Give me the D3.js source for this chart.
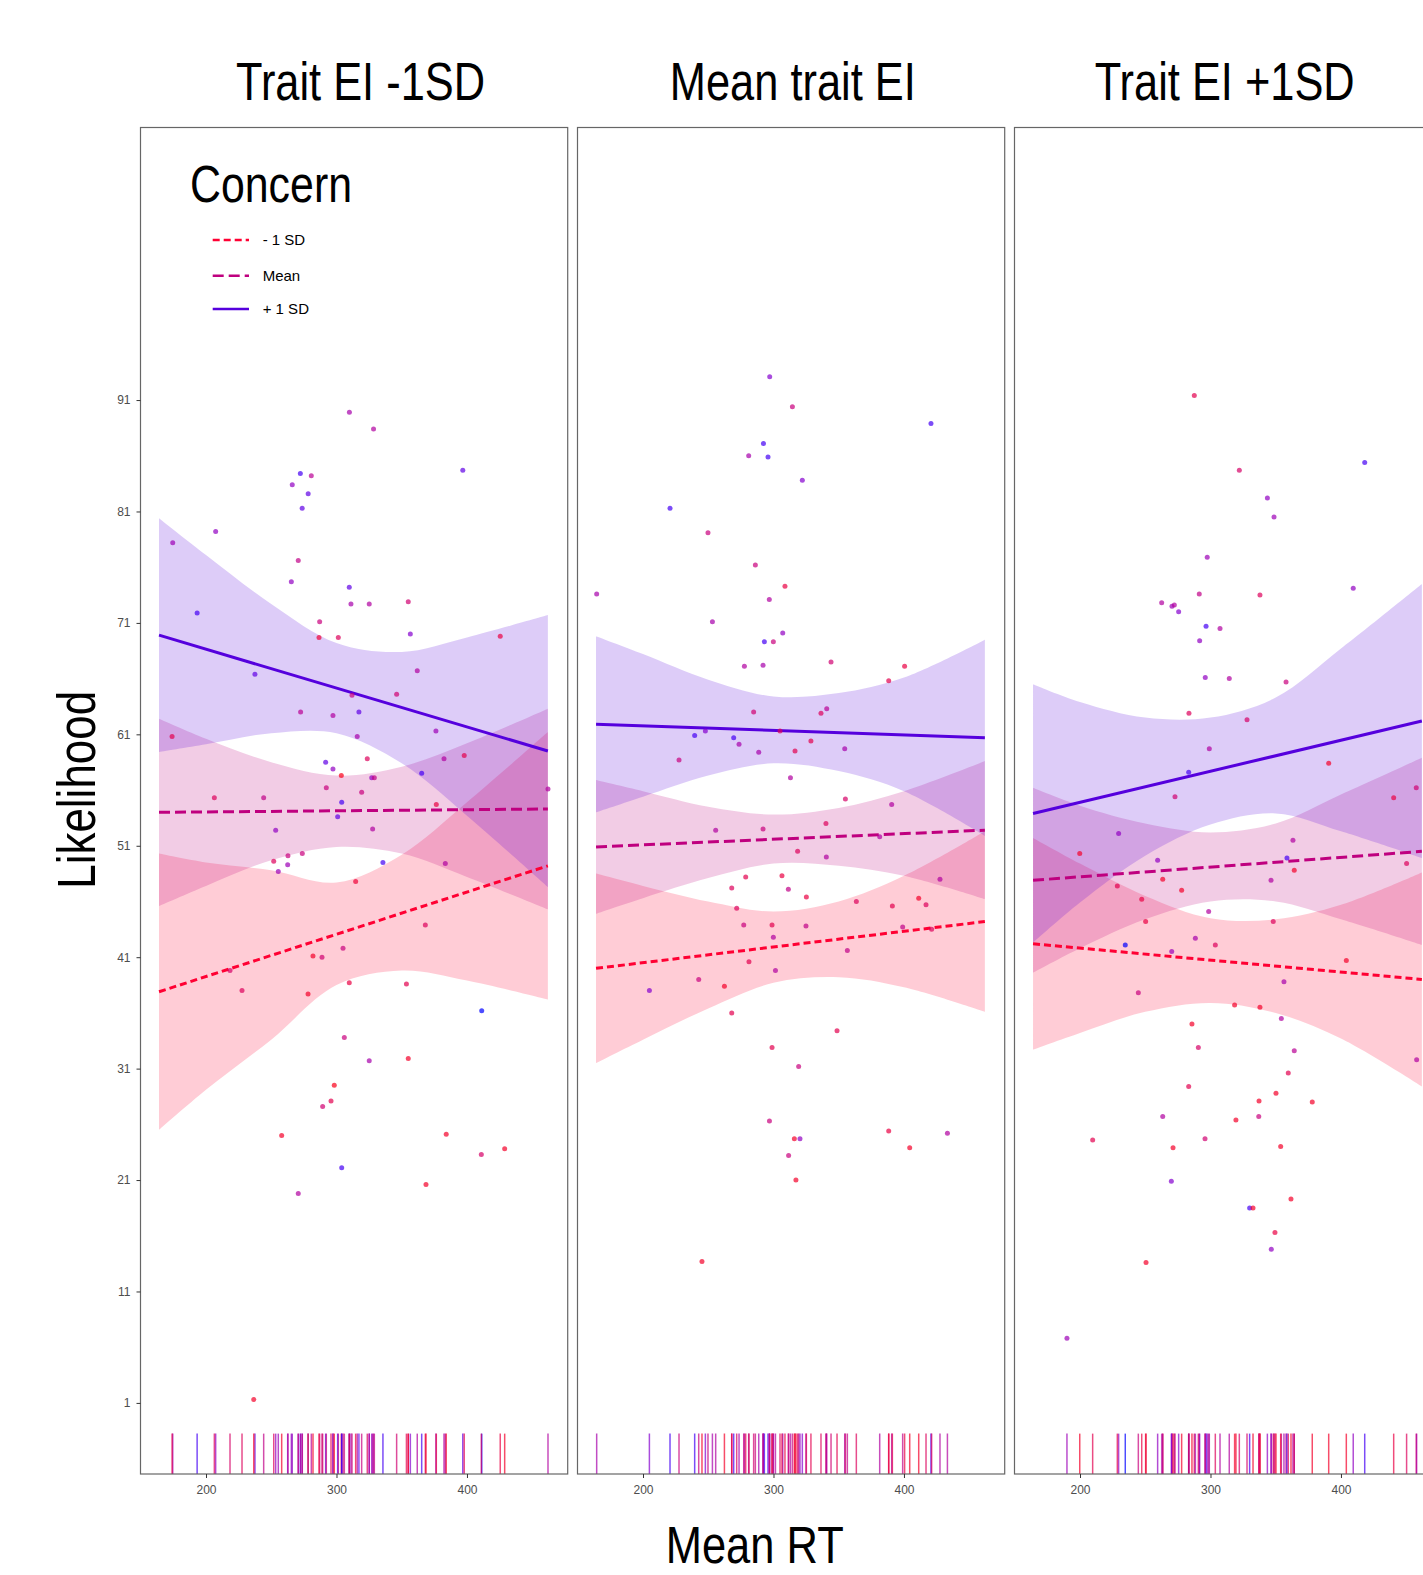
<!DOCTYPE html>
<html><head><meta charset="utf-8">
<script src="https://cdn.jsdelivr.net/npm/d3@7"></script>
<style>body{margin:0;background:#fff}svg{display:block}</style>
</head><body><svg id="c"></svg>
<script>
// ---------- data ----------
const facetTitles = ["Trait EI -1SD", "Mean trait EI", "Trait EI +1SD"];
const legendTitle = "Concern";
const levelNames = ["- 1 SD", "Mean", "+ 1 SD"];
const xTicks = [200, 300, 400];
const yTicks = [1, 11, 21, 31, 41, 51, 61, 71, 81, 91];

// fitted simple-slope lines (values at fitX) per panel: [red(-1SD), mean, blue(+1SD)]
const fitX = [164, 462];
const fitP1 = [[37.9, 49.2], [54.0, 54.3], [69.9, 59.5]];
const fitP2 = [[40.0, 44.2], [50.9, 52.4], [61.9, 60.7]];
const fitP3 = [[42.2, 39.0], [47.9, 50.5], [53.9, 62.2]];

// confidence bands read at bandX
const bandX = [164, 200, 250, 300, 350, 400, 462];
const loP1 = [[25.5, 29.1, 33.6, 38.5, 39.8, 38.9, 37.2], [45.6, 47.4, 49.7, 50.9, 50.3, 48.2, 45.3], [59.4, 60.1, 61.1, 61.1, 58.4, 53.7, 47.3]];
const hiP1 = [[50.3, 49.5, 48.8, 47.7, 50.2, 54.9, 61.2], [62.4, 60.6, 58.5, 57.3, 58.1, 60.2, 63.3], [80.4, 77.1, 72.7, 69.2, 68.4, 69.7, 71.7]];
const loP2 = [[31.5, 33.6, 36.4, 38.7, 39.2, 38.3, 36.1], [44.9, 46.3, 48.1, 49.4, 49.2, 48.3, 46.2], [54.0, 55.4, 57.3, 58.4, 57.7, 55.9, 51.9]];
const hiP2 = [[48.5, 47.4, 46.0, 45.1, 46.0, 48.3, 52.3], [56.9, 55.9, 54.5, 53.8, 54.4, 55.9, 58.6], [69.8, 68.2, 65.9, 64.4, 64.7, 66.1, 69.5]];
const loP3 = [[32.7, 34.2, 36.1, 36.9, 36.0, 33.7, 29.4], [39.6, 41.8, 44.4, 46.0, 46.0, 44.4, 42.1], [42.3, 45.9, 50.1, 52.9, 53.9, 52.3, 49.9]];
const hiP3 = [[51.7, 49.4, 46.5, 44.5, 44.4, 45.7, 48.6], [56.2, 54.6, 53.0, 52.2, 53.0, 55.6, 58.9], [65.5, 63.9, 62.5, 62.5, 64.3, 68.7, 74.5]];

// points: Mean RT, Likelihood, moderator colour position (0 = red, 1 = blue)
const rt1 = [174.5,193.2,207.4,309.9,328.4,396.8,272.3,280.7,266.1,278.3,273.7,270.7,265.4,309.8,311.1,325.1,355.0,287.1,286.6,301.4,356.6,425.5,174.0,237.5,361.9,346.1,311.9,272.5,297.3,317.2,315.9,376.2,382.4,397.9,323.6,291.7,297.3,303.7,365.3,327.0,329.0,292.2,319.3,206.4,244.2,304.0,300.9,462.1,376.5,253.4,327.7,251.9,262.8,273.8,255.4,262.6,335.6,383.4,314.7,368.1,305.0,218.4,227.6,282.0,288.9,278.2,309.8,353.6,411.3,306.0,325.1,355.0,298.3,295.8,289.4,258.0,384.1,411.0,428.9,304.0,368.6,270.7,236.6];
const lik1 = [78.2,71.9,79.2,89.9,88.4,84.7,84.4,84.2,83.4,82.6,81.3,76.6,74.7,74.2,72.7,72.7,72.9,71.1,69.7,69.7,70.0,69.8,60.8,66.4,66.7,64.6,64.5,63.0,62.7,63.0,60.8,61.3,58.8,59.1,58.8,58.5,57.9,57.3,57.5,57.1,57.1,56.2,55.8,55.3,55.3,54.9,53.6,56.1,54.7,52.4,52.5,49.6,50.1,50.3,48.7,49.3,49.5,49.4,47.8,43.9,41.8,39.8,38.0,41.1,41.0,37.7,38.7,38.6,36.2,33.8,31.7,31.9,29.5,28.1,27.6,25.0,25.1,23.3,23.8,22.1,20.6,19.8,1.3];
const mod1 = [0.7,0.95,0.75,0.65,0.6,0.9,0.95,0.55,0.75,0.9,0.9,0.5,0.75,0.9,0.65,0.6,0.4,0.45,0.15,0.3,0.8,0.2,0.25,0.9,0.6,0.4,0.45,0.55,0.6,0.9,0.65,0.7,0.6,0.25,0.3,0.9,0.75,0.05,0.95,0.75,0.5,0.45,0.45,0.3,0.5,0.95,0.9,0.6,0.2,0.75,0.6,0.3,0.45,0.45,0.7,0.7,0.95,0.6,0.15,0.3,0.45,0.35,0.3,0.1,0.4,0.1,0.2,0.25,1.0,0.45,0.65,0.1,0.05,0.25,0.4,0.1,0.1,0.35,0.1,0.95,0.1,0.6,0.1];

const rt2 = [297.1,314.5,420.7,292.3,281.0,295.8,322.1,220.7,249.8,286.1,308.8,164.5,296.8,253.2,307.1,293.0,299.9,277.7,292.0,344.1,400.5,388.3,284.8,336.4,340.8,239.6,247.8,269.5,273.6,288.7,305.0,316.5,328.7,354.6,227.6,313.0,355.1,390.6,255.7,292.0,340.2,381.4,318.5,340.5,427.6,278.7,306.5,268.0,311.4,325.2,363.5,391.1,411.3,416.9,271.8,277.2,298.9,324.9,399.0,421.2,299.9,356.6,281.2,301.5,242.7,262.4,204.9,268.0,348.7,298.9,319.3,296.9,388.3,433.3,316.0,320.3,404.4,311.6,317.2,245.2];
const lik2 = [93.1,90.4,88.9,87.1,86.0,85.9,83.8,81.3,79.1,76.2,74.3,73.6,73.1,71.1,70.1,69.3,69.3,67.1,67.2,67.5,67.1,65.8,63.0,62.9,63.3,60.9,61.3,60.7,60.1,59.4,61.3,59.5,60.4,59.7,58.7,57.1,55.2,54.7,52.4,52.5,53.0,51.8,50.5,50.0,48.0,48.2,48.3,47.2,47.1,46.4,46.0,45.6,46.3,45.7,45.4,43.9,43.9,43.8,43.7,43.5,42.8,41.6,40.6,39.8,39.0,38.4,38.0,36.0,34.4,32.9,31.2,26.3,25.4,25.2,24.7,24.7,23.9,23.2,21.0,13.7];
const mod2 = [0.8,0.45,0.95,0.95,0.65,0.95,0.8,0.95,0.45,0.45,0.2,0.65,0.6,0.65,0.75,0.95,0.45,0.6,0.65,0.4,0.2,0.25,0.4,0.3,0.55,0.95,0.8,0.95,0.65,0.65,0.3,0.25,0.25,0.65,0.45,0.6,0.35,0.6,0.6,0.45,0.3,0.6,0.3,0.6,0.6,0.25,0.2,0.3,0.5,0.2,0.3,0.25,0.1,0.3,0.3,0.45,0.25,0.5,0.5,0.3,0.6,0.5,0.25,0.6,0.45,0.1,0.8,0.25,0.25,0.25,0.45,0.45,0.2,0.6,0.1,0.75,0.1,0.45,0.1,0.1];

const rt3 = [287.6,418.2,322.1,343.6,348.7,297.5,291.4,337.9,409.4,262.6,270.5,272.3,275.6,296.6,307.3,291.7,296.0,314.4,357.9,283.5,328.0,299.1,390.6,283.3,272.8,440.4,457.7,229.6,199.8,363.2,358.6,259.5,364.2,450.3,263.4,346.4,228.6,277.9,247.3,298.6,250.3,348.1,234.7,288.4,303.7,270.3,404.1,356.3,244.7,318.5,337.9,354.3,285.8,290.7,364.2,458.0,359.6,283.3,350.2,337.2,378.0,263.4,319.5,337.0,209.7,295.8,271.3,353.8,270.0,361.7,330.0,332.6,349.4,346.6,250.6,190.0];
const lik3 = [91.4,85.4,84.7,82.2,80.5,76.9,73.6,73.5,74.1,72.8,72.5,72.6,72.0,70.7,70.5,69.4,66.1,66.0,65.7,62.9,62.3,59.7,58.4,57.6,55.4,55.3,56.2,52.1,50.3,51.5,49.9,49.7,48.8,49.4,48.0,47.9,47.4,47.0,46.2,45.1,44.2,44.2,42.1,42.7,42.1,41.5,40.7,38.8,37.8,36.7,36.5,35.5,35.0,32.9,32.6,31.8,30.6,29.4,28.8,28.1,28.0,26.7,26.4,26.7,24.6,24.7,23.9,24.0,20.9,19.3,18.5,18.5,16.3,14.8,13.6,6.8];
const mod3 = [0.25,0.95,0.35,0.75,0.7,0.7,0.5,0.3,0.75,0.6,0.7,0.6,0.8,0.95,0.6,0.75,0.75,0.6,0.45,0.3,0.35,0.6,0.1,0.95,0.4,0.2,0.4,0.75,0.1,0.6,0.95,0.75,0.1,0.3,0.1,0.6,0.25,0.1,0.2,0.6,0.2,0.3,1.0,0.65,0.3,0.7,0.1,0.65,0.45,0.1,0.1,0.6,0.1,0.35,0.55,0.6,0.25,0.25,0.1,0.1,0.1,0.6,0.1,0.45,0.25,0.4,0.1,0.1,0.8,0.1,0.95,0.1,0.2,0.75,0.1,0.7];

// ---------- layout / style ----------
const W = 1423, H = 1575;
const panelLeft0 = 140.5, panelStep = 437, panelW = 427.2, panelTop = 127.5, panelBottom = 1474;
const titleCx = [360.5, 792.8, 1224.7];
const titleLen = [249, 246, 260];
const lineColors = ["#ff0033", "#bf007f", "#5500dd"];
const lineDash = ["7,4", "11,5", null];
const bandOrder = [0, 1, 2];
const ptColor = d3.interpolateLab("#ff0000", "#0000ff");
const FONT = "'Liberation Sans', Arial, Helvetica, sans-serif";
const NARROW = "'Liberation Sans Narrow', 'Liberation Sans', Arial, sans-serif";

const svg = d3.select("#c").attr("width", W).attr("height", H)
  .style("font-family", FONT);
svg.append("rect").attr("width", W).attr("height", H).attr("fill", "#fff");

const y = d3.scaleLinear().domain([-5.38, 115.46]).range([panelBottom, panelTop]);

const panels = [
  {fit: fitP1, lo: loP1, hi: hiP1, rt: rt1, lik: lik1, mod: mod1},
  {fit: fitP2, lo: loP2, hi: hiP2, rt: rt2, lik: lik2, mod: mod2},
  {fit: fitP3, lo: loP3, hi: hiP3, rt: rt3, lik: lik3, mod: mod3}
];

const defs = svg.append("defs");

panels.forEach((P, i) => {
  const left = panelLeft0 + panelStep * i;
  const x = d3.scaleLinear().domain([149.8, 477.2]).range([left, left + panelW]);

  defs.append("clipPath").attr("id", "clip" + i)
    .append("rect").attr("x", left).attr("y", panelTop)
    .attr("width", panelW).attr("height", panelBottom - panelTop);

  const g = svg.append("g").attr("clip-path", `url(#clip${i})`);

  // bands
  bandOrder.forEach(k => {
    const area = d3.area()
      .x((d, j) => x(bandX[j]))
      .y0((d, j) => y(P.lo[k][j]))
      .y1((d, j) => y(P.hi[k][j]))
      .curve(d3.curveCatmullRom.alpha(0.5));
    g.append("path").attr("d", area(bandX))
      .attr("fill", lineColors[k]).attr("fill-opacity", 0.2).attr("stroke", "none");
  });

  // fitted lines
  bandOrder.forEach(k => {
    const ln = d3.line().x((d, j) => x(fitX[j])).y((d, j) => y(P.fit[k][j]));
    const p = g.append("path").attr("d", ln(fitX))
      .attr("fill", "none").attr("stroke", lineColors[k])
      .attr("stroke-width", 3);
    if (lineDash[k]) p.attr("stroke-dasharray", lineDash[k]);
  });

  // points
  g.selectAll("circle.pt").data(P.rt).join("circle")
    .attr("class", "pt")
    .attr("cx", d => x(d))
    .attr("cy", (d, j) => y(P.lik[j]))
    .attr("r", 2.5)
    .attr("fill", (d, j) => ptColor(P.mod[j]))
    .attr("fill-opacity", 0.7);

  // rug
  const rugLen = 0.03 * (panelBottom - panelTop);
  g.selectAll("line.rug").data(P.rt).join("line")
    .attr("class", "rug")
    .attr("x1", d => x(d)).attr("x2", d => x(d))
    .attr("y1", panelBottom - rugLen).attr("y2", panelBottom)
    .attr("stroke", (d, j) => ptColor(P.mod[j]))
    .attr("stroke-opacity", 0.7).attr("stroke-width", 1.5);

  // border
  svg.append("rect").attr("x", left).attr("y", panelTop)
    .attr("width", panelW).attr("height", panelBottom - panelTop)
    .attr("fill", "none").attr("stroke", "#666").attr("stroke-width", 1.2);

  // x axis
  const ax = svg.append("g").attr("transform", `translate(0,${panelBottom})`)
    .call(d3.axisBottom(x).tickValues(xTicks).tickSize(4).tickPadding(7).tickFormat(d3.format("d")));
  ax.select(".domain").remove();
  ax.selectAll(".tick line").attr("stroke", "#333");
  ax.selectAll(".tick text").attr("fill", "#4d4d4d").style("font-size", "12px").style("font-family", FONT);

  // facet title
  svg.append("text").attr("x", titleCx[i]).attr("y", 100.4)
    .attr("text-anchor", "middle")
    .style("font-family", NARROW).style("font-size", "53px")
    .attr("textLength", titleLen[i]).attr("lengthAdjust", "spacingAndGlyphs")
    .attr("fill", "#000").text(facetTitles[i]);
});

// y axis
const ay = svg.append("g").attr("transform", `translate(${panelLeft0},0)`)
  .call(d3.axisLeft(y).tickValues(yTicks).tickSize(4).tickPadding(6));
ay.select(".domain").remove();
ay.selectAll(".tick line").attr("stroke", "#333");
ay.selectAll(".tick text").attr("fill", "#4d4d4d").style("font-size", "12px").style("font-family", FONT);

// axis titles
svg.append("text")
  .attr("transform", "translate(95.4,789.8) rotate(-90)")
  .attr("text-anchor", "middle")
  .style("font-family", NARROW).style("font-size", "53px")
  .attr("textLength", 198).attr("lengthAdjust", "spacingAndGlyphs")
  .text("Likelihood");
svg.append("text").attr("x", 754.7).attr("y", 1562.5)
  .attr("text-anchor", "middle")
  .style("font-family", NARROW).style("font-size", "51px")
  .attr("textLength", 178).attr("lengthAdjust", "spacingAndGlyphs")
  .text("Mean RT");

// legend
svg.append("text").attr("x", 190).attr("y", 202.3)
  .style("font-family", NARROW).style("font-size", "52px")
  .attr("textLength", 162).attr("lengthAdjust", "spacingAndGlyphs")
  .text(legendTitle);
const legY = [240, 275.7, 309];
levelNames.forEach((nm, k) => {
  const l = svg.append("line").attr("x1", 212.7).attr("x2", 249)
    .attr("y1", legY[k]).attr("y2", legY[k])
    .attr("stroke", lineColors[k]).attr("stroke-width", 2.6);
  if (lineDash[k]) l.attr("stroke-dasharray", lineDash[k]);
  svg.append("text").attr("x", 262.7).attr("y", legY[k] + 5.2)
    .style("font-size", "15px").attr("fill", "#000").text(nm);
});
</script>
</body></html>
